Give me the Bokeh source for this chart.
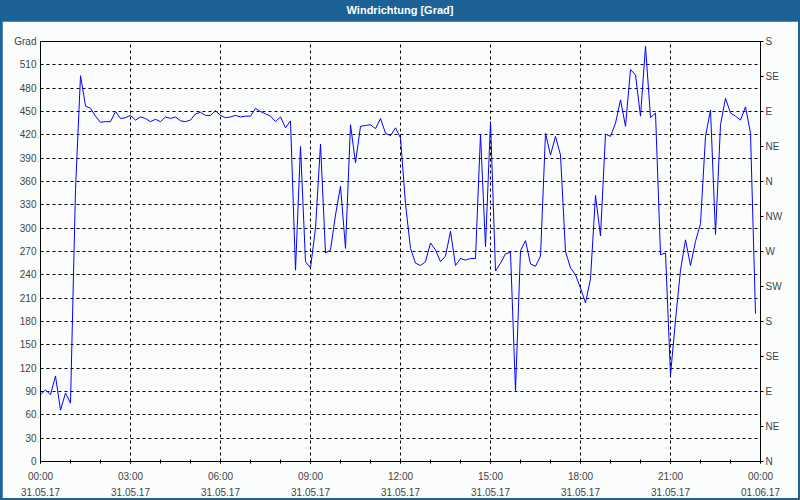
import pandas as pd
from bokeh.plotting import figure
from bokeh.models import (Div, LinearAxis, DatetimeAxis, FixedTicker, Range1d,
                          DatetimeTickFormatter, ColumnDataSource)
from bokeh.layouts import column
from bokeh.embed import file_html
from bokeh.resources import INLINE

# ---------------- data ----------------
title_text = "Windrichtung [Grad]"
start_time = "2017-05-31 00:00"
end_time = "2017-06-01 00:00"

# wind direction, one value every 10 minutes from 00:00
direction = [
    86, 92, 86, 110, 66, 88, 75, 350, 496, 457,
    454, 444, 436, 437, 437, 450, 441, 442, 445, 439,
    443, 441, 437, 440, 437, 443, 441, 443, 438, 437,
    439, 447, 449, 445, 445, 451, 445, 442, 443, 445,
    443, 444, 444, 454, 450, 447, 444, 437, 443, 429,
    438, 246, 405, 257, 249, 300, 408, 268, 272, 317,
    354, 274, 433, 384, 431, 432, 433, 428, 441, 422,
    419, 429, 416, 331, 274, 255, 252, 257, 281, 272,
    257, 264, 296, 252, 261, 259, 261, 261, 421, 276,
    437, 245, 255, 267, 269, 91, 271, 284, 254, 251,
    264, 422, 394, 418, 394, 270, 249, 240, 223, 204,
    235, 342, 290, 421, 418, 435, 465, 431, 504, 497,
    444, 534, 442, 448, 266, 268, 111, 182, 246, 285,
    252, 283, 306, 418, 452, 292, 433, 467, 448, 444,
    439, 456, 422, 190,
]

left_ticks = list(range(0, 541, 30))
left_unit_label = "Grad"
compass_values = [0, 45, 90, 135, 180, 225, 270, 315, 360, 405, 450, 495, 540]
compass_labels = ["N", "NE", "E", "SE", "S", "SW", "W", "NW", "N", "NE", "E", "SE", "S"]

# ---------------- styles ----------------
BG = "#FBFDFC"
BAR = "#1C6296"
FONT = "Liberation Sans"
FS = "10px"
W = 800
EDGE = 2

times = pd.date_range(start_time, periods=len(direction), freq="10min")
source = ColumnDataSource(data=dict(time=times, dir=direction))

t0 = pd.Timestamp(start_time)
t1 = pd.Timestamp(end_time)
to_ms = lambda t: t.value // 10**6
major = [to_ms(t) for t in pd.date_range(t0, t1, freq="3h")]
minor = [to_ms(t) for t in pd.date_range(t0, t1, freq="1h")]

p = figure(width=W - 2 * EDGE, height=479 - EDGE, x_axis_type="datetime",
           x_range=Range1d(t0, t1), y_range=Range1d(0, 540),
           output_backend="svg", toolbar_location=None,
           min_border_left=40 - EDGE, min_border_right=40 - EDGE,
           min_border_top=20, min_border_bottom=39 - EDGE,
           background_fill_color=BG, border_fill_color=BG,
           outline_line_color="black", outline_line_width=1,
           margin=(0, EDGE, EDGE, EDGE))

p.line(x="time", y="dir", source=source, line_color="#0000FF", line_width=1)


def fmt_all(f):
    return DatetimeTickFormatter(hours=f, hourmin=f, days=f, minutes=f,
                                 minsec=f, months=f, years=f)


# bottom axis: time of day
xa = p.xaxis[0]
xa.ticker = FixedTicker(ticks=major, minor_ticks=minor)
xa.formatter = fmt_all("%H:%M")
xa.major_tick_in = 2
xa.major_tick_out = 2
xa.minor_tick_in = 2
xa.minor_tick_out = 2
xa.major_label_standoff = 7
xa.major_label_text_font = FONT
xa.major_label_text_font_size = FS
xa.axis_line_color = "black"

# second bottom axis: date
xd = DatetimeAxis(ticker=FixedTicker(ticks=major, minor_ticks=[]),
                  formatter=fmt_all("%d.%m.%y"),
                  axis_line_color=None, major_tick_line_color=None,
                  minor_tick_line_color=None, major_tick_out=0, major_tick_in=0,
                  minor_tick_out=0, minor_tick_in=0,
                  major_label_standoff=3,
                  major_label_text_font=FONT, major_label_text_font_size=FS)
p.add_layout(xd, "below")

# left axis
ya = p.yaxis[0]
ya.ticker = FixedTicker(ticks=left_ticks, minor_ticks=[])
ya.major_label_overrides = {540: left_unit_label}
ya.major_tick_in = 0
ya.major_tick_out = 0
ya.minor_tick_in = 0
ya.minor_tick_out = 0
ya.major_label_standoff = 4
ya.major_label_text_font = FONT
ya.major_label_text_font_size = FS
ya.axis_line_color = "black"

# right axis (compass)
ra = LinearAxis(ticker=FixedTicker(ticks=compass_values, minor_ticks=[]),
                major_label_overrides={v: l for v, l in zip(compass_values, compass_labels)},
                major_tick_in=0, major_tick_out=3,
                minor_tick_in=0, minor_tick_out=0,
                major_label_standoff=2,
                major_label_text_font=FONT, major_label_text_font_size=FS,
                axis_line_color="black")
p.add_layout(ra, "right")

# grid
p.xgrid.ticker = FixedTicker(ticks=major)
p.ygrid.ticker = FixedTicker(ticks=left_ticks)
for g in (p.xgrid, p.ygrid):
    g.grid_line_color = "black"
    g.grid_line_dash = "3 3"
    g.grid_line_width = 1

title = Div(text=title_text, width=W, height=21, margin=0,
            styles={"background-color": BAR, "color": "white",
                    "font-family": FONT, "font-size": "11px",
                    "font-weight": "bold", "text-align": "center",
                    "line-height": "21px", "width": f"{W}px"})

layout = column(title, p, spacing=0, margin=0, width=W, height=500,
                styles={"background-color": BAR})

open("out.html", "w").write(file_html(layout, INLINE))
